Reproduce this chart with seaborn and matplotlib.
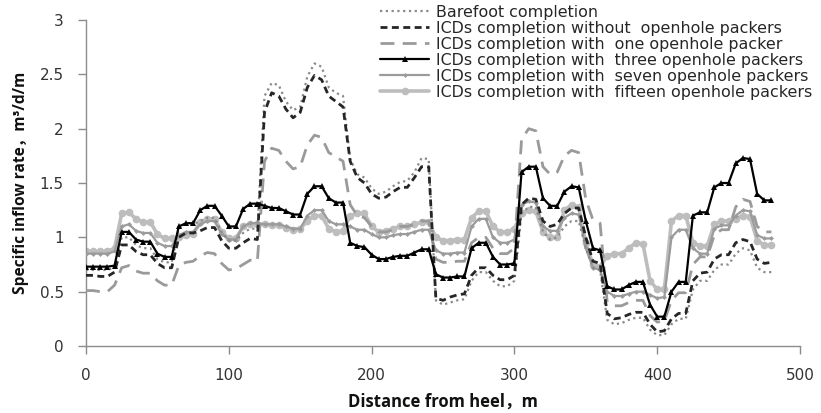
import numpy as np
import pandas as pd
import matplotlib
matplotlib.use("Agg")
import matplotlib.pyplot as plt
import seaborn as sns

distance = list(range(0, 485, 5))

barefoot = [0.70, 0.70, 0.70, 0.70, 0.72, 1.00, 1.00, 0.93, 0.90, 0.90,
            0.80, 0.77, 0.77, 1.08, 1.12, 1.12, 1.15, 1.18, 1.18, 1.05,
            0.97, 0.97, 1.04, 1.08, 1.08, 2.30, 2.42, 2.40, 2.25, 2.17,
            2.20, 2.48, 2.60, 2.57, 2.38, 2.33, 2.30, 1.72, 1.58, 1.55,
            1.45, 1.40, 1.42, 1.47, 1.51, 1.52, 1.60, 1.73, 1.72, 0.42,
            0.38, 0.40, 0.42, 0.43, 0.60, 0.68, 0.68, 0.60, 0.55, 0.55,
            0.60, 1.22, 1.28, 1.28, 1.05, 0.98, 1.00, 1.10, 1.15, 1.15,
            0.90, 0.72, 0.70, 0.24, 0.20, 0.21, 0.24, 0.26, 0.26, 0.15,
            0.10, 0.10, 0.20, 0.25, 0.25, 0.52, 0.60, 0.60, 0.70, 0.75,
            0.75, 0.85, 0.90, 0.88, 0.72, 0.68, 0.68]

no_packer = [0.65, 0.65, 0.64, 0.64, 0.68, 0.93, 0.93, 0.87, 0.84, 0.84,
             0.76, 0.72, 0.72, 1.00, 1.04, 1.04, 1.06, 1.09, 1.09, 0.97,
             0.90, 0.90, 0.95, 0.99, 0.98, 2.15, 2.33, 2.30, 2.18, 2.10,
             2.15, 2.38, 2.49, 2.45, 2.30, 2.25, 2.20, 1.70, 1.55, 1.50,
             1.40, 1.36, 1.37, 1.42, 1.46, 1.46, 1.55, 1.65, 1.65, 0.44,
             0.42, 0.45, 0.47, 0.48, 0.65, 0.72, 0.72, 0.65, 0.61, 0.61,
             0.65, 1.30, 1.36, 1.35, 1.15, 1.10, 1.12, 1.22, 1.27, 1.27,
             1.00, 0.78, 0.76, 0.30, 0.25, 0.26, 0.29, 0.31, 0.31, 0.20,
             0.13, 0.14, 0.25, 0.30, 0.30, 0.60, 0.67, 0.68, 0.80, 0.84,
             0.84, 0.95, 0.98, 0.96, 0.80, 0.76, 0.77]

one_packer = [0.51, 0.51, 0.50, 0.50, 0.56, 0.72, 0.74, 0.69, 0.67, 0.67,
              0.60, 0.56, 0.56, 0.74, 0.77, 0.78, 0.83, 0.86, 0.85, 0.76,
              0.70, 0.71, 0.75, 0.79, 0.78, 1.70, 1.82, 1.80, 1.70, 1.63,
              1.65, 1.85, 1.94, 1.92, 1.78, 1.74, 1.70, 1.30, 1.20, 1.18,
              1.10, 1.05, 1.05, 1.07, 1.10, 1.10, 1.12, 1.15, 1.15, 0.80,
              0.77, 0.77, 0.78, 0.78, 0.95, 1.00, 1.00, 0.90, 0.85, 0.85,
              0.90, 1.90, 2.00, 1.98, 1.65, 1.58, 1.60, 1.75, 1.80, 1.78,
              1.35, 1.16, 1.13, 0.40, 0.37, 0.37, 0.40, 0.42, 0.42, 0.28,
              0.22, 0.23, 0.42, 0.49, 0.49, 0.75, 0.82, 0.82, 1.02, 1.07,
              1.07, 1.28, 1.35, 1.33, 1.10, 1.05, 1.05]

three_packers = [0.73, 0.73, 0.73, 0.73, 0.74, 1.05, 1.05, 0.98, 0.96, 0.96,
                 0.85, 0.82, 0.82, 1.10, 1.13, 1.13, 1.25, 1.29, 1.29, 1.20,
                 1.10, 1.10, 1.26, 1.31, 1.31, 1.29, 1.27, 1.27, 1.24, 1.21,
                 1.21, 1.40, 1.47, 1.47, 1.36, 1.32, 1.32, 0.95, 0.92, 0.91,
                 0.84, 0.80, 0.80, 0.82, 0.83, 0.83, 0.86, 0.89, 0.89, 0.66,
                 0.63, 0.63, 0.64, 0.64, 0.90, 0.95, 0.95, 0.82, 0.75, 0.75,
                 0.76, 1.60, 1.65, 1.65, 1.36, 1.29, 1.29, 1.42, 1.47, 1.46,
                 1.15, 0.90, 0.88, 0.55, 0.52, 0.52, 0.56, 0.59, 0.59, 0.38,
                 0.27, 0.27, 0.50, 0.59, 0.59, 1.20, 1.23, 1.23, 1.46, 1.50,
                 1.50, 1.68, 1.73, 1.72, 1.40, 1.34, 1.34]

seven_packers = [0.85, 0.85, 0.85, 0.85, 0.87, 1.10, 1.12, 1.06, 1.04, 1.04,
                 0.95, 0.92, 0.92, 1.02, 1.05, 1.05, 1.12, 1.15, 1.15, 1.03,
                 0.98, 0.98, 1.10, 1.13, 1.13, 1.12, 1.12, 1.12, 1.10, 1.08,
                 1.08, 1.20, 1.25, 1.25, 1.15, 1.12, 1.12, 1.10, 1.07, 1.07,
                 1.03, 1.00, 1.00, 1.02, 1.03, 1.03, 1.05, 1.07, 1.07, 0.88,
                 0.85, 0.85, 0.86, 0.86, 1.10, 1.17, 1.17, 1.00, 0.95, 0.95,
                 0.98, 1.30, 1.33, 1.32, 1.10, 1.06, 1.06, 1.18, 1.22, 1.21,
                 0.90, 0.72, 0.70, 0.50, 0.46, 0.46, 0.48, 0.50, 0.50, 0.47,
                 0.44, 0.45, 1.00, 1.07, 1.07, 0.90, 0.85, 0.85, 1.08, 1.11,
                 1.11, 1.20, 1.25, 1.24, 1.02, 0.99, 0.99]

fifteen_packers = [0.87, 0.87, 0.87, 0.87, 0.90, 1.22, 1.23, 1.17, 1.14, 1.14,
                   1.03, 0.99, 0.99, 1.00, 1.02, 1.03, 1.14, 1.17, 1.17, 1.05,
                   0.99, 0.99, 1.10, 1.12, 1.12, 1.12, 1.11, 1.11, 1.09, 1.07,
                   1.08, 1.15, 1.20, 1.20, 1.08, 1.05, 1.06, 1.20, 1.22, 1.22,
                   1.10, 1.05, 1.06, 1.08, 1.10, 1.10, 1.12, 1.14, 1.14, 1.00,
                   0.97, 0.97, 0.98, 0.98, 1.18, 1.24, 1.24, 1.10, 1.05, 1.05,
                   1.08, 1.22, 1.25, 1.24, 1.05, 1.00, 1.00, 1.25, 1.30, 1.28,
                   0.95, 0.75, 0.73, 0.83, 0.85, 0.85, 0.90, 0.95, 0.94, 0.60,
                   0.52, 0.52, 1.15, 1.20, 1.20, 0.95, 0.92, 0.92, 1.12, 1.15,
                   1.15, 1.17, 1.20, 1.19, 0.97, 0.93, 0.93]

labels = ["Barefoot completion",
          "ICDs completion without  openhole packers",
          "ICDs completion with  one openhole packer",
          "ICDs completion with  three openhole packers",
          "ICDs completion with  seven openhole packers",
          "ICDs completion with  fifteen openhole packers"]

df = pd.DataFrame({"x": distance, "bare": barefoot, "none": no_packer,
                   "one": one_packer, "three": three_packers,
                   "seven": seven_packers, "fifteen": fifteen_packers})

sns.set_style("white")
plt.rcParams["font.family"] = ["DejaVu Sans", "Noto Sans CJK SC"]
label_font = ["Open Sans", "Noto Sans CJK SC", "DejaVu Sans"]

fig = plt.figure(figsize=(8.21, 4.13), dpi=100)
ax = fig.add_axes([86/821, 1-346/413, 714/821, 326/413])

styles = [
    dict(col="fifteen", color="#bdbdbd", lw=2.6, ls="-", marker="o", ms=5.5, z=2),
    dict(col="seven", color="#9b9b9b", lw=1.6, ls="-", marker="D", ms=2.5, z=3),
    dict(col="one", color="#9a9a9a", lw=2.0, ls=(0, (5, 3)), marker=None, ms=0, z=4),
    dict(col="bare", color="#8a8a8a", lw=1.6, ls=(0, (1, 1.6)), marker=None, ms=0, z=5),
    dict(col="none", color="#262626", lw=2.0, ls=(0, (2.5, 1.6)), marker=None, ms=0, z=6),
    dict(col="three", color="#000000", lw=1.6, ls="-", marker="^", ms=4, z=7),
]
label_map = dict(zip(["bare", "none", "one", "three", "seven", "fifteen"], labels))
for s in styles:
    kw = dict(color=s["color"], linewidth=s["lw"], linestyle=s["ls"], zorder=s["z"])
    if s["marker"]:
        kw.update(marker=s["marker"], markersize=s["ms"], markeredgewidth=0,
                  markerfacecolor=s["color"])
    sns.lineplot(data=df, x="x", y=s["col"], ax=ax, label=label_map[s["col"]], **kw)

ax.set_xlim(0, 500)
ax.set_ylim(0, 3)
ax.set_xticks([0, 100, 200, 300, 400, 500])
ax.set_yticks([0, 0.5, 1, 1.5, 2, 2.5, 3])
ax.set_yticklabels(["0", "0.5", "1", "1.5", "2", "2.5", "3"])
for sp in ["top", "right"]:
    ax.spines[sp].set_visible(False)
for sp in ["left", "bottom"]:
    ax.spines[sp].set_color("#8c8c8c")
    ax.spines[sp].set_linewidth(1.0)
ax.tick_params(axis="both", which="both", length=6, width=1.0, color="#8c8c8c",
               labelsize=11, labelcolor="#333333", direction="out")
ax.tick_params(axis="y", left=True, pad=10)
ax.tick_params(axis="x", bottom=True, pad=10)

ax.set_xlabel("Distance from heel，m", fontsize=12, fontweight="bold", labelpad=7,
              color="#111111", family=label_font)
ax.set_ylabel("Specific inflow rate，m³/d/m", fontsize=11.2, fontweight="bold",
              labelpad=8, color="#111111", family=label_font)

ax.get_legend().remove()
handles, lbls = ax.get_legend_handles_labels()
order = [labels.index(l) for l in lbls]
pairs = sorted(zip(order, handles, lbls))
fig.legend([p[1] for p in pairs], [p[2] for p in pairs], loc="upper left",
           bbox_to_anchor=(380/821, 1-5/413), frameon=False, fontsize=11.4,
           handlelength=3.1, handletextpad=0.45, labelspacing=0.06,
           borderaxespad=0, borderpad=0, numpoints=1)

fig.savefig("out.png", dpi=100)
